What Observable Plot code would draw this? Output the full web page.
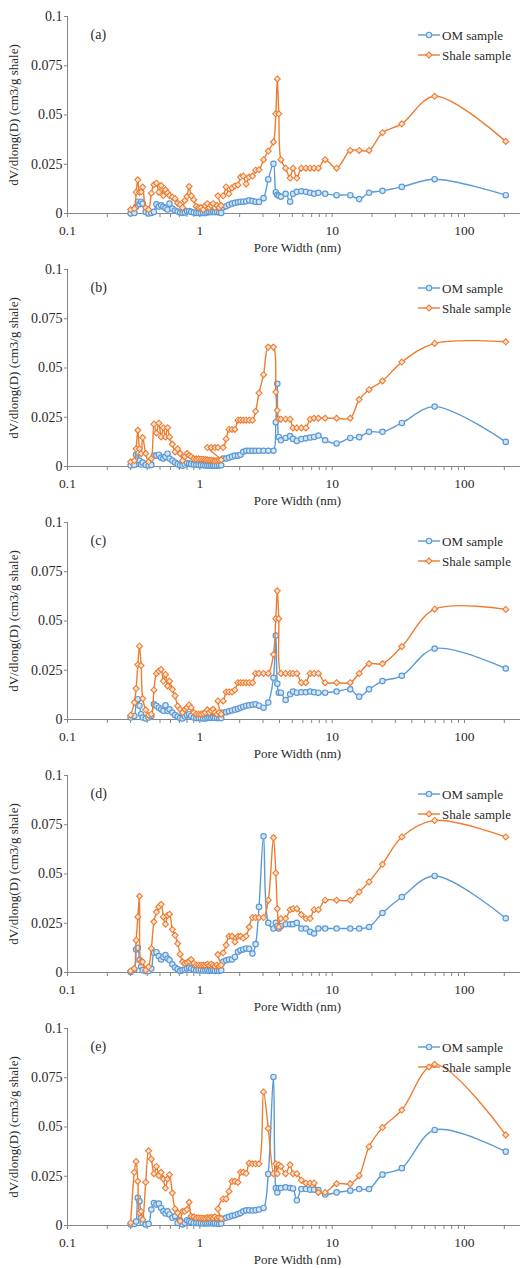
<!DOCTYPE html>
<html>
<head>
<meta charset="utf-8">
<script src="https://cdn.jsdelivr.net/npm/d3@7"></script>
<script src="https://cdn.jsdelivr.net/npm/@observablehq/plot@0.6"></script>
<style>
  body { margin: 0; background: #fff; }
  #chart svg { display: block; }
</style>
</head>
<body>
<div id="chart"></div>
<script>
// Pore widths (nm): CO2 (micropore) grid and N2 (meso/macropore) grid
const microWidth = [0.30,0.32,0.33,0.34,0.35,0.36,0.37,
  0.39,0.41,0.43,0.45,0.47,0.49,0.51,0.53,0.55,0.57,0.59,
  0.62,0.65,0.68,0.71,0.74,0.77,0.80,0.83,0.86,
  0.90,0.94,0.98,1.02,1.06,1.10,1.14,1.18,1.22,1.26,1.30,
  1.35,1.40,1.45];
const mesoWidth = [1.14,1.22,1.30,1.37,
  1.50,1.58,1.66,1.75,1.84,1.94,2.03,2.13,2.24,2.36,2.50,2.64,2.80,
  3.03,3.29,3.60,3.75,3.85,3.95,4.10,4.45,4.81,
  5.06,5.41,5.85,6.33,6.82,7.30,7.87,8.85,
  10.8,13.7,16.0,19.0,24.0,33.6,59.5,205];

// dV/dlog(D) values, cm3/g shale — panel (a)
const omMicroA = [0,0.0003,0.0034,0.006,0.0047,0.006,0.005,
  0.0008,0,0.0003,0.0008,0.0047,0.0035,0.0042,0.0034,0.0028,0.002,0.005,
  0.0025,0.0015,0.001,0.0005,0.0003,0.0005,0.0012,0.0013,0.0008,
  0.0005,0.0003,0.0002,0.0002,0.0003,0.0002,0.0005,0.0008,0.0006,0.0009,0.0006,
  0.0008,0.0005,0.0003];
const omMesoA = [null,null,null,null,
  0.003,0.0037,0.0044,0.005,0.0054,0.0057,0.006,0.006,0.0062,0.0067,0.0063,0.006,0.0059,
  0.0078,0.0173,0.0252,0.0108,0.0095,0.009,0.0085,0.010,0.006,
  0.010,0.011,0.0113,0.011,0.0105,0.010,0.0105,0.010,
  0.0093,0.0093,0.0073,0.0105,0.0115,0.0135,0.0174,0.0093];
const shaleMicroA = [0.002,0.0025,0.0108,0.0171,0.0108,0.011,0.0134,
  0.0029,0.002,0.0103,0.0146,0.0154,0.0108,0.0142,0.0091,0.012,0.0105,0.0091,
  0.0083,0.0075,0.0052,0.0045,0.003,0.0066,0.0086,0.0137,0.009,
  0.007,0.0036,0.003,0.003,0.002,0.004,0.005,0.003,0.004,0.005,0.003,
  0.004,0.003,0.004];
const shaleMesoA = [null,null,null,0.009,
  0.009,0.0135,0.010,0.013,0.014,0.0145,0.0185,0.019,0.015,0.0185,0.019,0.022,0.0222,
  0.0273,0.0317,0.0363,0.0506,0.0683,0.0506,0.0273,0.023,0.018,
  0.023,0.018,0.023,0.023,0.023,0.023,0.023,0.0273,
  0.023,0.032,0.032,0.032,0.041,0.0455,0.0595,0.0366];

// panel (b)
const omMicroB = [0.0005,0.0008,0.006,0.007,0.003,0.001,0.002,
  0.0008,0.0005,0.0008,0.0055,0.0055,0.006,0.0045,0.004,0.005,0.0065,0.004,
  0.003,0.002,0.0012,0.0006,0.0004,0.001,0.0018,0.0015,0.0012,
  0.001,0.0009,0.0008,0.0007,0.0006,0.0005,0.0005,0.0004,0.0004,0.0005,0.0004,
  0.0004,0.0005,0.0006];
const omMesoB = [null,null,null,null,
  0.004,0.004,0.0045,0.005,0.0055,0.0055,0.006,0.0075,0.008,0.008,0.008,0.008,0.008,
  0.008,0.008,0.008,0.0225,0.042,0.015,0.0133,0.0145,0.0154,
  0.014,0.013,0.0139,0.0143,0.0147,0.015,0.0157,0.0133,
  0.0117,0.0145,0.0149,0.0176,0.0176,0.0221,0.0304,0.0125];
const shaleMicroB = [0.0024,0.003,0.009,0.0184,0.009,0.0065,0.0147,
  0.0066,0.0024,0.004,0.0215,0.017,0.022,0.015,0.0197,0.015,0.0197,0.015,
  0.0113,0.0074,0.009,0.0066,0.003,0.005,0.0066,0.0057,0.005,
  0.004,0.0039,0.0039,0.0037,0.0037,0.0035,0.0034,0.0032,0.0032,0.003,0.0029,
  0.003,0.0032,0.0034];
const shaleMesoB = [0.0096,0.0096,0.0096,0.0096,
  0.0096,0.014,0.0188,0.0188,0.0188,0.0235,0.0235,0.0235,0.0235,0.0235,0.0235,0.028,0.0373,
  0.0466,0.0606,0.0606,0.0378,0.0285,0.024,0.024,0.024,0.024,
  0.0196,0.0196,0.0196,0.0196,0.024,0.0245,0.0245,0.0245,
  0.0245,0.0245,0.034,0.039,0.0434,0.053,0.0625,0.0633];

// panel (c)
const omMicroC = [0.001,0.0018,0.0086,0.0103,0.007,0.0027,0.001,
  0.0005,0.001,0.0018,0.0077,0.007,0.006,0.0052,0.0044,0.0072,0.0044,0.0052,
  0.0035,0.0022,0.0015,0.0008,0.0005,0.0015,0.0022,0.0027,0.0018,
  0.001,0.0007,0.0007,0.0007,0.0005,0.0005,0.0007,0.001,0.0008,0.0012,0.0008,
  0.0007,0.0008,0.0007];
const omMesoC = [null,null,null,null,
  0.0035,0.0037,0.0042,0.0046,0.005,0.0054,0.006,0.0065,0.007,0.0072,0.0075,0.0077,0.007,
  0.006,0.0086,0.0212,0.0426,0.0182,0.0136,0.0136,0.0099,0.0128,
  0.0142,0.0136,0.0138,0.0138,0.0142,0.0138,0.0136,0.0136,
  0.0142,0.0153,0.0116,0.0153,0.0195,0.0222,0.036,0.0259];
const shaleMicroC = [0.0022,0.0086,0.0157,0.0278,0.0372,0.0274,0.0106,
  0.0049,0.0022,0.0027,0.015,0.0234,0.0246,0.0254,0.0195,0.0229,0.017,0.0195,
  0.0153,0.012,0.0069,0.0052,0.0035,0.0052,0.006,0.0074,0.006,
  0.0035,0.0027,0.0027,0.0027,0.003,0.0035,0.0049,0.0035,0.0044,0.0052,0.0035,
  0.0027,0.0035,0.0027];
const shaleMesoC = [null,null,null,0.0094,
  0.0094,0.014,0.014,0.014,0.015,0.0187,0.0187,0.0187,0.0187,0.0187,0.0187,0.0234,0.0234,
  0.0234,0.0234,0.033,0.0512,0.0653,0.0512,0.0234,0.0234,0.0234,
  0.0234,0.0234,0.0187,0.0187,0.0234,0.0234,0.0234,0.0187,
  0.0187,0.0187,0.0234,0.0283,0.0283,0.037,0.056,0.0559];

// panel (d)
const omMicroD = [0.0003,0.0015,0.0117,0.0125,0.0063,0.0029,0.0012,
  0.0007,0.0007,0.002,0.01,0.0103,0.0083,0.0066,0.0079,0.0088,0.0071,0.0063,
  0.0042,0.0025,0.0017,0.0008,0.0012,0.0015,0.002,0.0025,0.002,
  0.0015,0.0012,0.0012,0.0012,0.001,0.001,0.0012,0.0008,0.001,0.0012,0.0008,
  0.001,0.0008,0.0012];
const omMesoD = [null,null,null,null,
  0.0054,0.0062,0.0066,0.0066,0.0079,0.0105,0.0113,0.0117,0.0122,0.012,0.0096,0.0144,0.0333,
  0.0691,0.0252,0.0223,0.0252,0.0235,0.0223,0.0235,0.0245,0.0245,
  0.0245,0.0252,0.0223,0.0223,0.0206,0.0198,0.0223,0.0223,
  0.0223,0.0223,0.0223,0.0231,0.0302,0.0383,0.049,0.0275];
const shaleMicroD = [0.0008,0.002,0.0164,0.0282,0.0387,0.0054,0.0054,
  0.0012,0.0029,0.0122,0.0257,0.0307,0.0333,0.0346,0.0282,0.0245,0.029,0.0296,
  0.0218,0.0189,0.0147,0.0093,0.0054,0.0046,0.0051,0.0057,0.0066,
  0.0046,0.0037,0.0037,0.0037,0.0037,0.0037,0.0042,0.0037,0.0042,0.0037,0.0032,
  0.0037,0.0032,0.0037];
const shaleMesoD = [null,null,null,0.0091,
  0.010,0.0139,0.0184,0.0184,0.0155,0.0184,0.0184,0.0175,0.0185,0.0231,0.0279,0.0279,0.0279,
  0.0279,0.0367,0.0684,0.0505,0.0324,0.0231,0.0274,0.0274,0.0319,
  0.0324,0.0324,0.0294,0.0274,0.0274,0.0319,0.0319,0.0367,
  0.0367,0.0367,0.0409,0.046,0.0549,0.0688,0.0772,0.0688];

// panel (e)
const omMicroE = [0.0005,0.0008,0.002,0.014,0.0123,0.0039,0.0013,
  0.0005,0.0008,0.0081,0.0114,0.0106,0.0111,0.0089,0.0072,0.0061,0.0072,0.0056,
  0.0039,0.0047,0.0013,0.0027,0.0005,0.0013,0.0027,0.0022,0.0017,
  0.0013,0.0013,0.0012,0.0012,0.001,0.0012,0.001,0.0012,0.0013,0.001,0.0012,
  0.001,0.0008,0.001];
const omMesoE = [null,null,null,null,
  0.0034,0.0039,0.0044,0.0049,0.0052,0.0058,0.0063,0.0072,0.0077,0.0077,0.0076,0.0078,0.0081,
  0.0089,0.0261,0.0754,0.019,0.0168,0.019,0.019,0.0194,0.019,
  0.0188,0.0128,0.0185,0.0185,0.0182,0.0182,0.018,0.0157,
  0.0168,0.0177,0.0185,0.0185,0.0258,0.0291,0.0485,0.0375];
const shaleMicroE = [0.0013,0.027,0.0325,0.0224,0.0064,0.0072,0.003,
  0.0219,0.0379,0.0337,0.0263,0.03,0.0253,0.027,0.0236,0.019,0.0236,0.0258,
  0.0165,0.0084,0.0064,0.0022,0.0072,0.0072,0.0081,0.0118,0.0047,
  0.0044,0.0039,0.0039,0.0037,0.0037,0.0037,0.004,0.0039,0.0042,0.0039,0.0044,
  0.0037,0.0039,0.0035];
const shaleMesoE = [null,null,null,0.0084,
  0.0135,0.0135,0.0173,0.0224,0.0224,0.0219,0.027,0.027,0.0265,0.0316,0.0313,0.0313,0.0313,
  0.0678,0.0493,0.0263,0.0313,0.0263,0.0308,0.030,0.0263,0.0308,
  0.0263,0.0263,0.023,0.0215,0.0215,0.0215,0.0168,0.0168,
  0.0212,0.0212,0.0253,0.040,0.0497,0.0586,0.0818,0.046];

const panelTags = ["(a)", "(b)", "(c)", "(d)", "(e)"];
const seriesNames = ["OM sample", "Shale sample"];
const yTicks = [0, 0.025, 0.05, 0.075, 0.1];
const majorTicks = [0.1, 1, 10, 100];
const yLabel = "dV/dlong(D) (cm3/g shale)";
const xLabel = "Pore Width (nm)";

const panels = [
  {tag: panelTags[0], om: [omMicroA, omMesoA], shale: [shaleMicroA, shaleMesoA]},
  {tag: panelTags[1], om: [omMicroB, omMesoB], shale: [shaleMicroB, shaleMesoB]},
  {tag: panelTags[2], om: [omMicroC, omMesoC], shale: [shaleMicroC, shaleMesoC]},
  {tag: panelTags[3], om: [omMicroD, omMesoD], shale: [shaleMicroD, shaleMesoD]},
  {tag: panelTags[4], om: [omMicroE, omMesoE], shale: [shaleMicroE, shaleMesoE]}
];

const BLUE = "#5b9bd5", BLUE_FILL = "#d6e5f5";
const ORANGE = "#ed7d31", ORANGE_FILL = "#fbe3d3";
const AXIS = "#868686", INK = "#2b2b2b";
const FONT = "'Liberation Serif', 'Times New Roman', serif";
const X_MAX = 265;

// log axis ticks: every integer multiple inside each decade
const xTicks = [];
for (const dec of majorTicks) for (let k = 1; k <= 9; k++) if (k * dec <= X_MAX) xTicks.push(k * dec);
const majorSet = new Set(majorTicks);

// CO2 points followed by N2 points, skipping widths a run doesn't cover
function rows([micro, meso]) {
  return [
    ...microWidth.map((w, i) => ({width: w, value: micro[i]})),
    ...mesoWidth.map((w, i) => ({width: w, value: meso[i]}))
  ].filter(d => d.value != null);
}

function drawPanel(p) {
  const om = rows(p.om);
  const shale = rows(p.shale);
  const svg = Plot.plot({
    width: 521,
    height: 253,
    marginLeft: 67,
    marginRight: 1,
    marginTop: 16,
    marginBottom: 40,
    style: {fontFamily: FONT, fontSize: "13px", color: INK, background: "#fff", overflow: "visible"},
    x: {type: "log", domain: [0.1, X_MAX]},
    y: {domain: [0, 0.1]},
    marks: [
      Plot.axisY({ticks: yTicks, tickFormat: d => String(d), tickSize: 3, tickPadding: 2,
        label: null, stroke: AXIS, fill: INK, fontSize: 14}),
      Plot.axisX({ticks: xTicks, tickFormat: d => majorSet.has(d) ? String(d) : "",
        tickSize: 4, tickPadding: 8, label: null, stroke: AXIS, fill: INK, fontSize: 13.5}),
      Plot.ruleX([0.1], {stroke: AXIS}),
      Plot.ruleY([0], {stroke: AXIS}),
      Plot.line(om, {x: "width", y: "value", stroke: BLUE, strokeWidth: 1.4, curve: "catmull-rom"}),
      Plot.dot(om, {x: "width", y: "value", r: 2.7, stroke: BLUE, strokeWidth: 1.2, fill: BLUE_FILL}),
      Plot.line(shale, {x: "width", y: "value", stroke: ORANGE, strokeWidth: 1.4, curve: "catmull-rom"}),
      Plot.dot(shale, {x: "width", y: "value", symbol: "diamond2", r: 2.7, stroke: ORANGE, strokeWidth: 1.1, fill: ORANGE_FILL}),
      Plot.text([p.tag], {frameAnchor: "top-left", dx: 23, dy: 18, lineAnchor: "middle", textAnchor: "start", fontSize: 14, fill: INK}),
      Plot.text([yLabel], {frameAnchor: "left", dx: -54, rotate: -90, textAnchor: "middle", lineAnchor: "middle", fontSize: 13, fill: INK}),
      Plot.text([xLabel], {frameAnchor: "bottom", dx: 3.5, dy: 34, textAnchor: "middle", lineAnchor: "middle", fontSize: 13, fill: INK})
    ]
  });

  // series key in the upper right of the plot area
  const key = d3.select(svg).append("g")
    .attr("font-family", FONT).attr("font-size", 13).attr("text-anchor", "start");
  const keyRows = [
    {name: seriesNames[0], color: BLUE, fill: BLUE_FILL, symbol: d3.symbolCircle, y: 35},
    {name: seriesNames[1], color: ORANGE, fill: ORANGE_FILL, symbol: d3.symbolDiamond2, y: 55}
  ];
  for (const k of keyRows) {
    key.append("line").attr("x1", 418).attr("x2", 440).attr("y1", k.y).attr("y2", k.y)
      .attr("stroke", k.color).attr("stroke-width", 1.4);
    key.append("path").attr("d", d3.symbol(k.symbol, Math.PI * 2.7 * 2.7)())
      .attr("transform", `translate(429,${k.y})`)
      .attr("stroke", k.color).attr("stroke-width", 1.1).attr("fill", k.fill);
    key.append("text").attr("x", 442).attr("y", k.y).attr("dy", "0.35em")
      .attr("text-anchor", "start").attr("fill", INK).text(k.name);
  }
  return svg;
}

const chart = document.getElementById("chart");
for (const p of panels) chart.appendChild(drawPanel(p));
</script>
</body>
</html>
